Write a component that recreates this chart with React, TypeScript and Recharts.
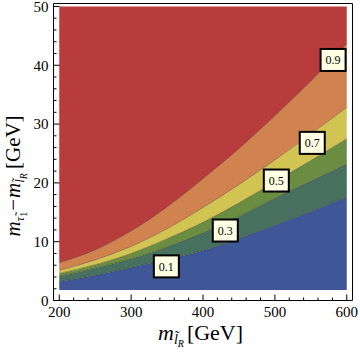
import React from "react";
import { ComposedChart, Area, Line, XAxis, YAxis, ReferenceDot, ReferenceArea } from "recharts";

// slepton mass grid (GeV)
const sleptonMass = [200, 250, 300, 350, 400, 450, 500, 550, 600];

// contour levels, mass splitting in GeV
const contour01 = [3.2, 4.3, 5.6, 7.0, 8.5, 10.5, 12.8, 15.1, 17.6];
const contour03 = [4.1, 5.5, 7.1, 9.1, 11.5, 14.3, 17.4, 20.3, 23.2];
const contour05 = [4.6, 6.1, 8.0, 10.5, 13.3, 16.6, 20.2, 23.8, 27.5];
const contour07 = [5.1, 6.9, 9.2, 12.2, 15.8, 19.7, 23.9, 28.3, 32.8];
const contour09 = [6.4, 8.6, 11.8, 15.9, 20.7, 25.8, 31.4, 37.3, 43.6];
const fillFloor = 1.8;
const fillTop = 50;

const levelLabels = ["0.1", "0.3", "0.5", "0.7", "0.9"];
const labelMass = [349, 431, 502, 552, 581];
const labelSplit = [5.8, 11.9, 20.4, 26.8, 40.9];

const xDomain = [192, 608];
const yDomain = [0, 50.5];
const xTicks = [200, 220, 240, 260, 280, 300, 320, 340, 360, 380, 400, 420, 440, 460, 480, 500, 520, 540, 560, 580, 600];
const yTicks = [0, 2, 4, 6, 8, 10, 12, 14, 16, 18, 20, 22, 24, 26, 28, 30, 32, 34, 36, 38, 40, 42, 44, 46, 48, 50];

const serif = "'Liberation Serif', 'DejaVu Serif', serif";

const bands = [
  { key: "blue", color: "#3f5796" },
  { key: "teal", color: "#47705f" },
  { key: "green", color: "#6b8d42" },
  { key: "yellow", color: "#d2c453" },
  { key: "orange", color: "#d1834f" },
  { key: "red", color: "#b93c3c" },
];

const chartData = sleptonMass.map((m, i) => ({
  m,
  blue: [fillFloor, contour01[i]],
  teal: [contour01[i], contour03[i]],
  green: [contour03[i], contour05[i]],
  yellow: [contour05[i], contour07[i]],
  orange: [contour07[i], contour09[i]],
  red: [contour09[i], fillTop],
  c01: contour01[i],
  c03: contour03[i],
  c05: contour05[i],
  c07: contour07[i],
  c09: contour09[i],
}));

// left axis: ticks point inward, labels outside
const YTick = (props: any) => {
  const { x, y, payload } = props;
  const major = payload.value % 10 === 0;
  return (
    <g>
      <line x1={x} x2={x + (major ? 6 : 3)} y1={y} y2={y} stroke="#000" strokeWidth={1} />
      {major && (
        <text x={x - 5} y={y} dy="0.35em" textAnchor="end" fontSize={15} fontFamily={serif} fill="#000">
          {payload.value}
        </text>
      )}
    </g>
  );
};

const XTick = (props: any) => {
  const { x, y, payload } = props;
  const major = payload.value % 100 === 0;
  return (
    <g>
      <line x1={x} x2={x} y1={y} y2={y - (major ? 6 : 3)} stroke="#000" strokeWidth={1} />
      {major && (
        <text x={x} y={y + 16} textAnchor="middle" fontSize={15} fontFamily={serif} fill="#000">
          {payload.value}
        </text>
      )}
    </g>
  );
};

const LevelTag = ({ cx, cy, text }: { cx: number; cy: number; text: string }) => (
  <g>
    <rect x={cx - 12.5} y={cy - 11} width={25} height={22} fill="#ffffe4" stroke="#000" strokeWidth={2} />
    <text x={cx} y={cy} dy="0.35em" textAnchor="middle" fontSize={12} fontFamily={serif} fill="#000">
      {text}
    </text>
  </g>
);

const Low = ({ size, drop, children }: { size: number; drop: number; children: React.ReactNode }) => (
  <span style={{ fontSize: size, position: "relative", top: drop }}>{children}</span>
);

export default function App() {
  return (
    <div style={{ position: "absolute", left: 0, top: 0, width: 360, height: 356, background: "#fff" }}>
      <ComposedChart width={360} height={356} data={chartData} margin={{ top: 3.5, right: 7.5, bottom: 0, left: 0 }}>
        <XAxis
          dataKey="m"
          type="number"
          domain={xDomain}
          allowDataOverflow
          ticks={xTicks}
          interval={0}
          height={55.5}
          axisLine={false}
          tickLine={false}
          tickSize={0}
          tickMargin={0}
          tick={<XTick />}
        />
        <YAxis
          type="number"
          domain={yDomain}
          allowDataOverflow
          ticks={yTicks}
          interval={0}
          width={53.5}
          axisLine={false}
          tickLine={false}
          tickSize={0}
          tickMargin={0}
          tick={<YTick />}
        />
        {bands.map((b) => (
          <Area
            key={b.key}
            dataKey={b.key}
            type="monotone"
            fill={b.color}
            fillOpacity={1}
            stroke="none"
            isAnimationActive={false}
          />
        ))}
        {["c01", "c03", "c05", "c07", "c09"].map((k) => (
          <Line
            key={k}
            dataKey={k}
            type="monotone"
            stroke="rgba(40,25,20,0.4)"
            strokeWidth={0.8}
            dot={false}
            activeDot={false}
            isAnimationActive={false}
          />
        ))}
        <ReferenceArea
          x1={xDomain[0]}
          x2={xDomain[1]}
          y1={yDomain[0]}
          y2={yDomain[1]}
          ifOverflow="extendDomain"
          fill="none"
          fillOpacity={0}
          stroke="#000"
          strokeWidth={1}
        />
        {levelLabels.map((t, i) => (
          <ReferenceDot
            key={t}
            x={labelMass[i]}
            y={labelSplit[i]}
            r={0}
            shape={(p: any) => <LevelTag cx={p.cx} cy={p.cy} text={t} />}
          />
        ))}
      </ComposedChart>
      <div
        style={{
          position: "absolute",
          left: 158,
          top: 322,
          fontFamily: serif,
          fontSize: 22,
          lineHeight: "22px",
          whiteSpace: "nowrap",
        }}
      >
        <i>m</i>
        <Low size={14} drop={4}>
          <i>l̃</i>
          <Low size={10} drop={3}>
            <i>R</i>
          </Low>
        </Low>
        <span style={{ marginLeft: 3 }}>[GeV]</span>
      </div>
      <div
        style={{
          position: "absolute",
          left: 15,
          top: 176,
          transform: "translate(-50%, -50%) rotate(-90deg)",
          fontFamily: serif,
          fontSize: 21,
          lineHeight: "21px",
          whiteSpace: "nowrap",
        }}
      >
        <i>m</i>
        <Low size={13} drop={4}>
          <i>τ̃</i>
          <Low size={10} drop={3}>1</Low>
        </Low>
        <span style={{ margin: "0 1px" }}>−</span>
        <i>m</i>
        <Low size={13} drop={4}>
          <i>l̃</i>
          <Low size={10} drop={3}>
            <i>R</i>
          </Low>
        </Low>
        <span style={{ marginLeft: 4 }}>[GeV]</span>
      </div>
    </div>
  );
}
